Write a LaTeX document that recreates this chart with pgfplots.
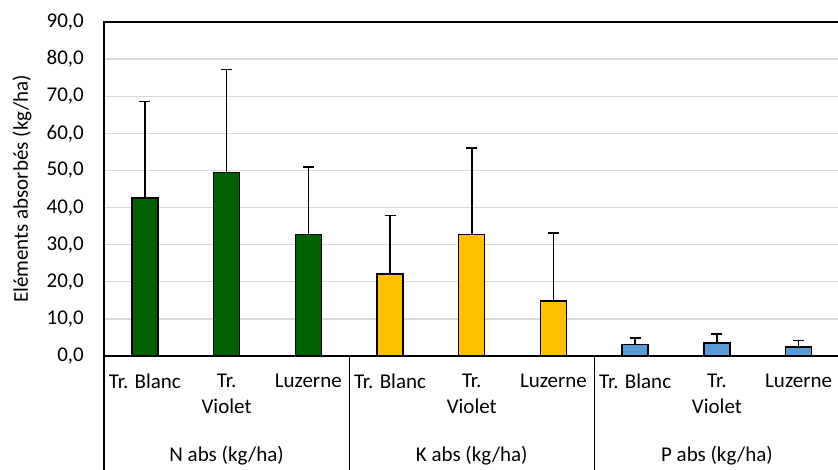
\documentclass[border=0pt]{standalone}
\usepackage{fontspec}
\setmainfont{Carlito}
\usepackage{pgfplots}
\pgfplotsset{compat=1.18}
\definecolor{cgreen}{HTML}{006100}
\definecolor{cyellow}{HTML}{FFC000}
\definecolor{cblue}{HTML}{5B9BD5}
\definecolor{cgrid}{HTML}{D9D9D9}
\begin{document}
\fontsize{21bp}{26bp}\selectfont
\begin{tikzpicture}
\useasboundingbox (0,0) rectangle (838bp,470bp);
\begin{axis}[
  at={(104bp,114bp)}, anchor=south west,
  width=735.5bp, height=334bp, scale only axis,
  xmin=0.5, xmax=9.5, ymin=0, ymax=90,
  ytick={0,10,...,90},
  ymajorgrids, grid style={draw=cgrid, line width=1.3bp},
  axis line style={black, line width=1.3bp},
  major tick length=0pt,
  xtick={1,...,9},
  xticklabels={Tr. Blanc,{Tr.\\Violet},Luzerne,Tr. Blanc,{Tr.\\Violet},Luzerne,Tr. Blanc,{Tr.\\Violet},Luzerne},
  xticklabel style={align=center, anchor=north, inner sep=0pt, yshift=-18bp},
  yticklabel style={anchor=east, inner sep=0pt, xshift=-20bp},
  /pgf/number format/.cd, fixed, fixed zerofill, precision=1, use comma, assume math mode=true,
  /pgfplots/.cd,
  ybar, bar width=26bp, bar shift=0pt,
  clip=false,
  error bars/y dir=plus, error bars/y explicit,
  error bars/error bar style={black, line width=1.5bp},
  error bars/error mark options={rotate=90, mark size=5.5bp, black, line width=1.5bp},
]
\addplot[fill=cgreen, draw=black, line width=1.4bp] coordinates {(1,42.6) +- (0,26.0) (2,49.4) +- (0,27.8) (3,32.7) +- (0,18.2)};
\addplot[fill=cyellow, draw=black, line width=1.4bp] coordinates {(4,22.1) +- (0,15.8) (5,32.7) +- (0,23.3) (6,14.8) +- (0,18.3)};
\addplot[fill=cblue, draw=black, line width=1.4bp] coordinates {(7,3.1) +- (0,1.75) (8,3.5) +- (0,2.4) (9,2.4) +- (0,1.8)};
\draw[black, line width=1.3bp] (axis cs:0.5,0) -- ([yshift=-120bp]axis cs:0.5,0);
\draw[black, line width=1.3bp] (axis cs:3.5,0) -- ([yshift=-120bp]axis cs:3.5,0);
\draw[black, line width=1.3bp] (axis cs:6.5,0) -- ([yshift=-120bp]axis cs:6.5,0);
\node[yshift=-100bp] at (axis cs:2,0) {N abs (kg/ha)};
\node[yshift=-100bp] at (axis cs:5,0) {K abs (kg/ha)};
\node[yshift=-100bp] at (axis cs:8,0) {P abs (kg/ha)};
\node[rotate=90, anchor=center] at ([xshift=-82bp]axis description cs:0,0.5) {Eléments absorbés (kg/ha)};
\end{axis}
\end{tikzpicture}
\end{document}
